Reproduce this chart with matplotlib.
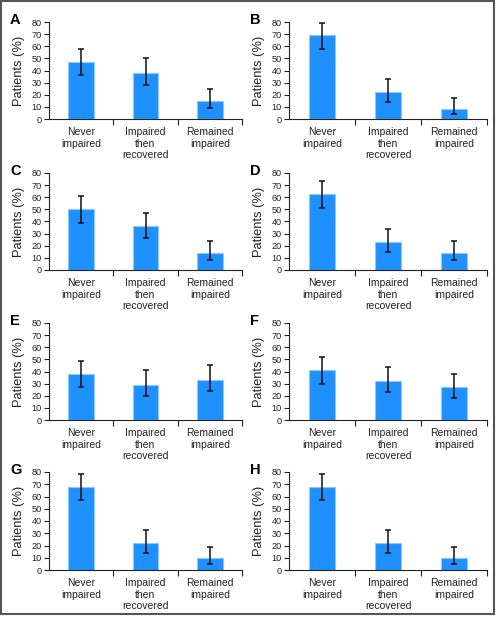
import matplotlib
matplotlib.use("Agg")
import matplotlib.pyplot as plt
from matplotlib.patches import Rectangle

plt.rcParams['font.family'] = ['Liberation Sans', 'DejaVu Sans']

categories = ["Never\nimpaired", "Impaired\nthen\nrecovered", "Remained\nimpaired"]
panel_labels = ["A", "B", "C", "D", "E", "F", "G", "H"]
values = {
    "A": [47, 38, 15],
    "B": [69, 22, 8],
    "C": [50, 36, 14],
    "D": [63, 23, 14],
    "E": [38, 29, 33],
    "F": [41, 32, 27],
    "G": [68, 22, 10],
    "H": [68, 22, 10],
}
lower = {
    "A": [36, 28, 9],
    "B": [58, 14, 4],
    "C": [39, 26, 8],
    "D": [51, 15, 8],
    "E": [27, 20, 24],
    "F": [30, 23, 18],
    "G": [57, 14, 5],
    "H": [57, 14, 5],
}
upper = {
    "A": [58, 50, 25],
    "B": [79, 33, 17],
    "C": [61, 47, 24],
    "D": [73, 34, 24],
    "E": [49, 41, 45],
    "F": [52, 44, 38],
    "G": [78, 33, 19],
    "H": [78, 33, 19],
}
yticks = [0, 10, 20, 30, 40, 50, 60, 70, 80]

W, H = 496, 619
fig = plt.figure(figsize=(W / 100, H / 100), dpi=100)

# axes pixel boxes: (left, right, top, bottom)
col_x = [(49, 242), (289, 487)]
row_y = [(22, 119), (173, 270), (323, 420), (472, 570)]

bar_color = "#1E90FF"
edge_color = "#8CC8FF"

for i, lab in enumerate(panel_labels):
    r, c = divmod(i, 2)
    x0, x1 = col_x[c]
    y0, y1 = row_y[r]
    ax = fig.add_axes([x0 / W, 1 - y1 / H, (x1 - x0) / W, (y1 - y0) / H])
    v = values[lab]
    lo = [vv - l for vv, l in zip(v, lower[lab])]
    hi = [u - vv for vv, u in zip(v, upper[lab])]
    xs = list(range(len(categories)))
    ax.bar(xs, v, width=0.4, color=bar_color, edgecolor=edge_color, linewidth=0.8, zorder=2)
    ax.errorbar(xs, v, yerr=[lo, hi], fmt='none', ecolor='#111111', elinewidth=1.1,
                capsize=2.3, capthick=1.1, zorder=3)
    ax.set_xlim(-0.5, 2.5)
    ax.set_ylim(0, 80)
    ax.set_yticks(yticks)
    ax.set_yticklabels([str(t) for t in yticks], fontsize=6.6)
    ax.set_xticks(xs)
    ax.set_xticklabels(categories, fontsize=7.5, linespacing=1.15, color='#222222')
    ax.set_xticks([0.5, 1.5, 2.5], minor=True)
    ax.tick_params(axis='x', which='major', length=0, pad=6)
    ax.tick_params(axis='x', which='minor', length=4, width=0.8, direction='out', color='#222222')
    ax.tick_params(axis='y', length=3.5, width=0.8, pad=1.5, color='#222222', labelcolor='#222222')
    for s in ['top', 'right']:
        ax.spines[s].set_visible(False)
    for s in ['left', 'bottom']:
        ax.spines[s].set_linewidth(0.8)
        ax.spines[s].set_color('#222222')
    ax.set_ylabel("Patients (%)", fontsize=9.3, labelpad=2, color='#222222')
    ax.yaxis.set_label_coords(-24 / (x1 - x0), 0.5)
    fig.text((x0 - 39) / W, 1 - (y0 - 9) / H, lab, fontsize=10.5, fontweight='bold',
             ha='left', va='top')

# outer frame
fig.patches.append(Rectangle((1 / W, 5 / H), (493 / W), (613 / H), transform=fig.transFigure,
                             fill=False, edgecolor='#555555', linewidth=1.5))

fig.savefig("out.png", dpi=100)
